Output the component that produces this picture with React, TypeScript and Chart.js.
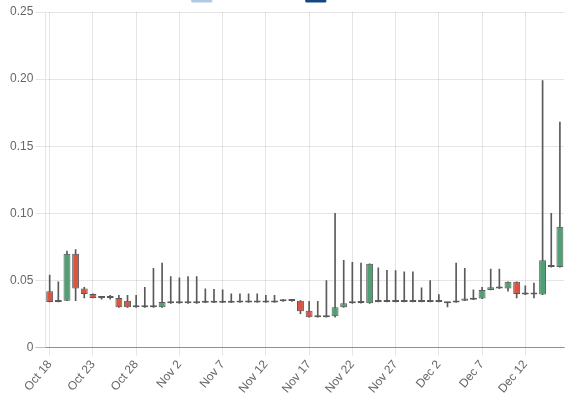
import React, { useEffect, useRef } from 'react';
import { Chart, registerables } from 'chart.js';

Chart.register(...registerables);

const dates = [
  'Oct 18', 'Oct 19', 'Oct 20', 'Oct 21', 'Oct 22', 'Oct 23', 'Oct 24', 'Oct 25', 'Oct 26', 'Oct 27',
  'Oct 28', 'Oct 29', 'Oct 30', 'Oct 31', 'Nov 1', 'Nov 2', 'Nov 3', 'Nov 4', 'Nov 5', 'Nov 6',
  'Nov 7', 'Nov 8', 'Nov 9', 'Nov 10', 'Nov 11', 'Nov 12', 'Nov 13', 'Nov 14', 'Nov 15', 'Nov 16',
  'Nov 17', 'Nov 18', 'Nov 19', 'Nov 20', 'Nov 21', 'Nov 22', 'Nov 23', 'Nov 24', 'Nov 25', 'Nov 26',
  'Nov 27', 'Nov 28', 'Nov 29', 'Nov 30', 'Dec 1', 'Dec 2', 'Dec 3', 'Dec 4', 'Dec 5', 'Dec 6',
  'Dec 7', 'Dec 8', 'Dec 9', 'Dec 10', 'Dec 11', 'Dec 12', 'Dec 13', 'Dec 14', 'Dec 15', 'Dec 16',
];

const opens = [
  0.042, 0.034, 0.035, 0.070, 0.044, 0.040, 0.037, 0.037, 0.037, 0.035,
  0.030, 0.030, 0.030, 0.030, 0.033, 0.033, 0.033, 0.033, 0.0335, 0.0335,
  0.0335, 0.0335, 0.0337, 0.0337, 0.0337, 0.0337, 0.0337, 0.0345, 0.0357, 0.035,
  0.0275, 0.0226, 0.0226, 0.0233, 0.030, 0.033, 0.0332, 0.033, 0.034, 0.034,
  0.034, 0.034, 0.034, 0.034, 0.034, 0.034, 0.034, 0.0337, 0.035, 0.0357,
  0.0365, 0.043, 0.044, 0.044, 0.049, 0.0395, 0.0395, 0.0395, 0.060, 0.060,
];

const highs = [
  0.054, 0.049, 0.072, 0.073, 0.045, 0.040, 0.038, 0.039, 0.039, 0.039,
  0.039, 0.045, 0.059, 0.063, 0.053, 0.052, 0.053, 0.053, 0.0437, 0.0435,
  0.043, 0.040, 0.040, 0.040, 0.040, 0.039, 0.039, 0.0358, 0.0358, 0.035,
  0.0345, 0.0345, 0.050, 0.100, 0.065, 0.0635, 0.063, 0.0625, 0.0595, 0.0575,
  0.0573, 0.0565, 0.0565, 0.0445, 0.050, 0.0395, 0.034, 0.063, 0.059, 0.043,
  0.045, 0.0585, 0.0585, 0.049, 0.049, 0.046, 0.048, 0.199, 0.100, 0.168,
];

const lows = [
  0.034, 0.034, 0.035, 0.035, 0.037, 0.037, 0.036, 0.036, 0.030, 0.030,
  0.030, 0.030, 0.030, 0.030, 0.033, 0.033, 0.033, 0.033, 0.0335, 0.0335,
  0.0335, 0.0335, 0.0337, 0.0337, 0.0337, 0.0337, 0.0337, 0.0345, 0.0345, 0.0253,
  0.0226, 0.0226, 0.0226, 0.0226, 0.030, 0.033, 0.0332, 0.033, 0.034, 0.034,
  0.034, 0.034, 0.034, 0.034, 0.034, 0.034, 0.0303, 0.0337, 0.035, 0.0357,
  0.0365, 0.043, 0.044, 0.042, 0.037, 0.0395, 0.037, 0.0395, 0.060, 0.060,
];

const closes = [
  0.034, 0.035, 0.070, 0.044, 0.040, 0.037, 0.037, 0.037, 0.030, 0.030,
  0.030, 0.030, 0.030, 0.034, 0.034, 0.033, 0.033, 0.033, 0.0335, 0.0335,
  0.0335, 0.0335, 0.0337, 0.0337, 0.0337, 0.0337, 0.0337, 0.0357, 0.0348, 0.027,
  0.0226, 0.0226, 0.0226, 0.030, 0.033, 0.034, 0.0332, 0.0625, 0.034, 0.034,
  0.034, 0.034, 0.034, 0.034, 0.034, 0.034, 0.033, 0.035, 0.0365, 0.037,
  0.043, 0.045, 0.045, 0.049, 0.040, 0.0395, 0.0395, 0.065, 0.060, 0.090,
];

const yTicks = [0, 0.05, 0.1, 0.15, 0.2, 0.25];
const legendNames = ['Candle Bodies', 'Shadows'];
const legendFills = ['rgba(179,201,227,1)', 'rgba(22,70,130,1)'];

const UP = 'rgba(80,160,115,1)';
const DOWN = 'rgba(215,85,65,1)';
const UNCHANGED = 'rgba(90,90,90,1)';
const WICK = 'rgba(90,90,90,1)';

const SHIFT = 20;

export default function App() {
  const ref = useRef<HTMLCanvasElement | null>(null);

  useEffect(() => {
    if (!ref.current) return;
    Chart.defaults.font.family = "Arial, 'Liberation Sans', Helvetica, sans-serif";
    Chart.defaults.font.size = 12;
    Chart.defaults.color = '#666';

    const bodyColors = opens.map((o, i) =>
      closes[i] > o ? UP : closes[i] < o ? DOWN : UNCHANGED
    );

    const chart = new Chart(ref.current, {
      type: 'bar',
      data: {
        labels: dates,
        datasets: [
          {
            label: legendNames[0],
            data: opens.map((o, i) => [o, closes[i]]),
            backgroundColor: bodyColors,
            borderColor: UNCHANGED,
            borderWidth: 1,
            borderSkipped: false,
            barPercentage: 0.8,
            categoryPercentage: 1,
            minBarLength: 2,
            grouped: false,
          },
          {
            label: legendNames[1],
            data: lows.map((l, i) => [l, highs[i]]),
            backgroundColor: WICK,
            borderWidth: 0,
            barThickness: 1,
            grouped: false,
          },
        ],
      },
      options: {
        responsive: true,
        maintainAspectRatio: false,
        animation: false,
        events: [],
        layout: { padding: { right: 8 } },
        plugins: {
          tooltip: { enabled: false },
          legend: {
            display: true,
            position: 'top',
            labels: {
              boxWidth: 20,
              boxHeight: 12,
              padding: 10,
              generateLabels: () =>
                legendNames.map((name, i) => ({
                  text: name,
                  fillStyle: legendFills[i],
                  strokeStyle: legendFills[i],
                  lineWidth: 1,
                  hidden: false,
                  datasetIndex: i,
                })),
            },
          },
        },
        scales: {
          x: {
            type: 'category',
            offset: true,
            grid: {
              offset: false,
              color: (ctx: any) => (ctx.index % 5 === 0 ? 'rgba(0,0,0,0.1)' : 'rgba(0,0,0,0)'),
              tickLength: 8,
            },
            border: { color: 'rgba(0,0,0,0.25)' },
            ticks: {
              autoSkip: false,
              maxRotation: 50,
              minRotation: 50,
              padding: 2,
              callback: (_v: any, idx: number) => (idx % 5 === 0 ? dates[idx] : ''),
            },
          },
          y: {
            type: 'linear',
            min: yTicks[0],
            max: yTicks[yTicks.length - 1],
            grid: {
              color: (ctx: any) => (ctx.tick && ctx.tick.value === 0 ? 'rgba(0,0,0,0.25)' : 'rgba(0,0,0,0.1)'),
              tickLength: 10,
            },
            border: { color: 'rgba(0,0,0,0.1)' },
            afterBuildTicks: (scale: any) => {
              scale.ticks = yTicks.map((v) => ({ value: v }));
            },
            ticks: {
              padding: 2,
              callback: (v: any) => (Number(v) === 0 ? '0' : Number(v).toFixed(2)),
            },
          },
        },
      },
    });
    return () => chart.destroy();
  }, []);

  return (
    <div
      style={{
        position: 'absolute',
        left: 8,
        top: -SHIFT,
        width: 565,
        height: 398 + SHIFT,
      }}
    >
      <canvas ref={ref} />
    </div>
  );
}
